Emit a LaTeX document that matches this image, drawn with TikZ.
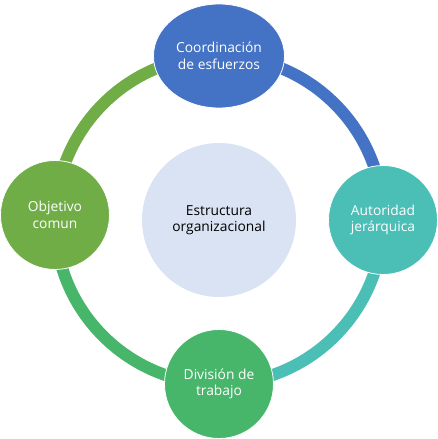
\documentclass[tikz,border=0pt]{standalone}
\usepackage{fontspec}
\setmainfont{Open Sans}
\usetikzlibrary{shapes.geometric}

\definecolor{cblue}{RGB}{68,114,196}
\definecolor{cteal}{RGB}{75,190,182}
\definecolor{cgreen}{RGB}{72,182,106}
\definecolor{colive}{RGB}{112,173,71}
\definecolor{ccore}{RGB}{218,227,243}

\begin{document}
\begin{tikzpicture}[x=1pt,y=1pt,line join=round,
    ring/.style={line width=12pt},
    petal/.style={circle,draw=white,line width=0.8pt,minimum size=109pt,
      inner sep=0pt,align=center,text=white,
      font=\fontsize{13.8}{16.5}\selectfont},
    core/.style={circle,fill=ccore,minimum size=154pt,inner sep=0pt,
      align=center,font=\fontsize{13.8}{16.5}\selectfont}]
\useasboundingbox (-219,-219) rectangle (219,220);

%% ---------------- the four nodes on the ring ----------------
\node[core] (core) at (0,0) {Estructura\\organizacional};
\path (0,164)  coordinate (ptop);
\path (164,0)  coordinate (pright);
\path (0,-164) coordinate (pbottom);
\path (-164,0) coordinate (pleft);

%% ring segments, each in the colour of the node it leaves
\draw[ring,cblue]  (ptop)    arc[start angle=90,  end angle=0,   radius=164];
\draw[ring,cteal]  (pright)  arc[start angle=0,   end angle=-90, radius=164];
\draw[ring,cgreen] (pbottom) arc[start angle=-90, end angle=-180,radius=164];
\draw[ring,colive] (pleft)   arc[start angle=180, end angle=90,  radius=164];

\node[petal,ellipse,fill=cblue,minimum width=131pt,minimum height=104pt]
   (coord) at (ptop) {Coordinación\\de esfuerzos};
\node[petal,fill=cteal]  (autor) at (pright)  {Autoridad\\jerárquica};
\node[petal,fill=cgreen] (divis) at (pbottom) {División de\\trabajo};
\node[petal,fill=colive] (objet) at (-164,5)  {Objetivo\\comun};

\end{tikzpicture}
\end{document}
